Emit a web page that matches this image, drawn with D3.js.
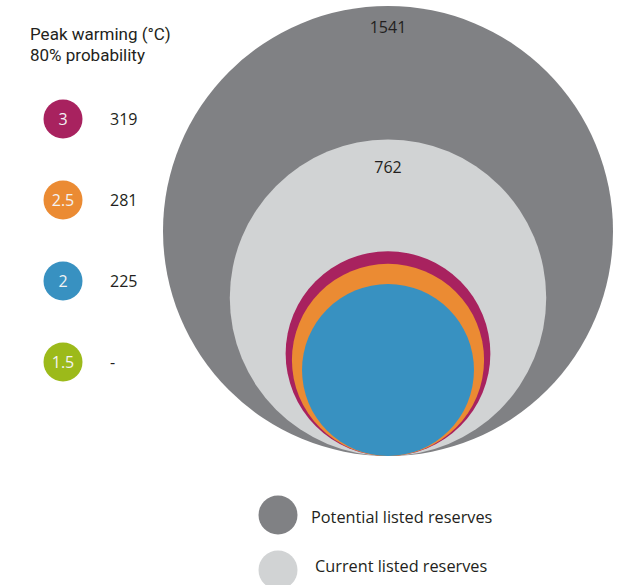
<!DOCTYPE html>
<html><head><meta charset="utf-8">
<script src="https://cdn.jsdelivr.net/npm/d3@7"></script>
<style>body{margin:0;background:#fff}svg{display:block}text{font-family:"Open Sans",sans-serif;font-weight:400}</style>
</head><body><svg id="c" width="627" height="585"></svg>
<script>
const reserveNames = ["Potential listed reserves", "Current listed reserves"];
const reserveValues = [1541, 762];
const reserveColors = ["#808184", "#d1d3d4"];
const warmingLabels = ["3", "2.5", "2", "1.5"];
const warmingValues = [319, 281, 225, null];
const warmingColors = ["#a8225f", "#eb8b33", "#3891c1", "#9cba1a"];
const titleLines = ["Peak warming (°C)", "80% probability"];

const svg = d3.select("#c");
const r = d3.scaleSqrt().domain([0, 1541]).range([0, 225]);
const cx = 388, base = 456;
const txt = "#231f20";

// nested circles
const all = reserveValues.map((v,i)=>({v, c:reserveColors[i], label:String(v)}))
  .concat(warmingValues.map((v,i)=>({v, c:warmingColors[i]})).filter(d=>d.v!=null));
svg.selectAll("circle.main").data(all).join("circle")
  .attr("cx", cx).attr("cy", d=>base - r(d.v)).attr("r", d=>r(d.v)).attr("fill", d=>d.c);
const labelOffsets = [27, 33];
svg.selectAll("text.rl").data(all.filter(d=>d.label)).join("text")
  .attr("x", cx).attr("y", (d,i)=>base - 2*r(d.v) + labelOffsets[i]).attr("text-anchor","middle")
  .attr("font-size",16).attr("fill",txt).text(d=>d.label);

// title
svg.selectAll("text.title").data(titleLines).join("text").attr("class","title")
  .attr("x",30).attr("y",(d,i)=>39.5 + i*21)
  .style("font-family","Roboto, sans-serif").attr("font-size",17).attr("fill",txt).text(d=>d);

// left legend
const ly = d3.scalePoint().domain(warmingLabels).range([119, 362]);
const lg = svg.selectAll("g.lg").data(warmingLabels).join("g").attr("transform", d=>`translate(0,${ly(d)})`);
lg.append("circle").attr("cx",63).attr("cy",0).attr("r",19.5).attr("fill",(d,i)=>warmingColors[i]);
lg.append("text").attr("x",63).attr("y",6).attr("text-anchor","middle").attr("font-size",16).attr("fill","#f3f3f3").text(d=>d);
lg.append("text").attr("x",110).attr("y",6).attr("font-size",16).attr("fill",txt).text((d,i)=>warmingValues[i]==null?"-":warmingValues[i]);

// bottom legend
const by = d3.scalePoint().domain(reserveNames).range([515, 570]);
const bg = svg.selectAll("g.bg").data(reserveNames).join("g").attr("transform", d=>`translate(0,${by(d)})`);
bg.append("circle").attr("cx",278).attr("cy",0).attr("r",19.5).attr("fill",(d,i)=>reserveColors[i]);
bg.append("text").attr("x",(d,i)=>i==0?311:315).attr("y",(d,i)=>i==0?8:2).attr("font-size",16.3).attr("fill",txt).text(d=>d);
</script></body></html>
